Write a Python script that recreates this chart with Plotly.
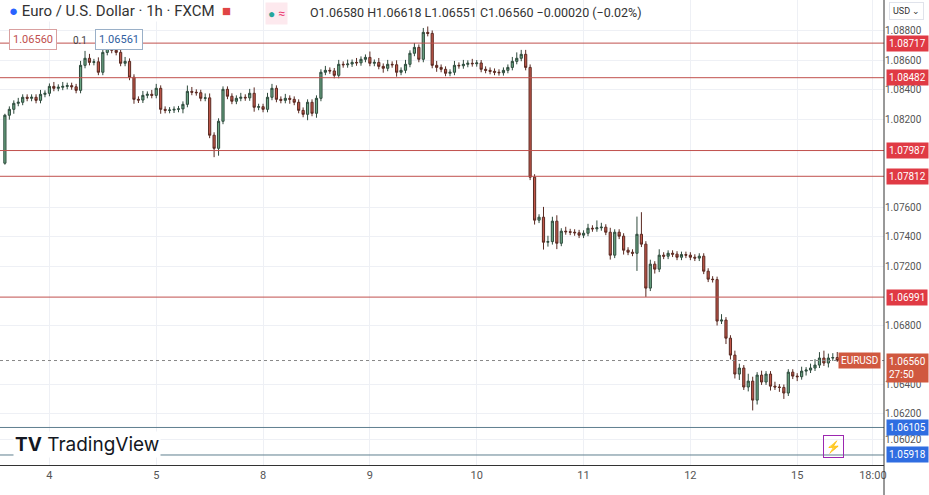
import plotly.graph_objects as go

first_open = 1.07901
closes = [
1.08227,1.08267,1.08308,1.08315,1.08349,1.08342,1.08349,1.08328,1.08369,1.08376,
1.08423,1.08410,1.08417,1.08423,1.08428,1.08420,1.08396,1.08566,1.08614,1.08586,
1.08590,1.08519,1.08654,1.08681,1.08668,1.08654,1.08580,1.08593,1.08485,1.08335,
1.08330,1.08362,1.08369,1.08362,1.08410,1.08267,1.08260,1.08262,1.08267,1.08270,
1.08301,1.08389,1.08383,1.08380,1.08342,1.08345,1.08091,1.08002,1.08186,1.08403,
1.08356,1.08322,1.08342,1.08349,1.08345,1.08376,1.08281,1.08285,1.08267,1.08349,
1.08410,1.08335,1.08328,1.08342,1.08335,1.08315,1.08260,1.08233,1.08315,1.08240,
1.08342,1.08519,1.08532,1.08528,1.08498,1.08573,1.08570,1.08575,1.08586,1.08583,
1.08607,1.08620,1.08580,1.08586,1.08559,1.08546,1.08573,1.08570,1.08519,1.08532,
1.08573,1.08648,1.08688,1.08607,1.08790,1.08783,1.08566,1.08552,1.08539,1.08512,
1.08519,1.08566,1.08563,1.08573,1.08580,1.08577,1.08582,1.08539,1.08532,1.08525,
1.08519,1.08516,1.08532,1.08552,1.08593,1.08614,1.08641,1.08552,1.07806,1.07514,
1.07534,1.07364,1.07368,1.07507,1.07357,1.07439,1.07435,1.07432,1.07428,1.07412,
1.07425,1.07459,1.07455,1.07462,1.07466,1.07432,1.07276,1.07432,1.07405,1.07310,
1.07296,1.07289,1.07418,1.07351,1.07052,1.07215,1.07181,1.07276,1.07269,1.07289,
1.07283,1.07262,1.07280,1.07276,1.07262,1.07256,1.07269,1.07167,1.07113,1.07110,
1.06828,1.06835,1.06712,1.06597,1.06468,1.06509,1.06380,1.06420,1.06291,1.06461,
1.06414,1.06468,1.06386,1.06380,1.06377,1.06339,1.06481,1.06454,1.06450,1.06488,
1.06495,1.06509,1.06529,1.06577,1.06543,1.06577,1.06580,1.06560]

# wick lengths in pips (0.0001)
upper_wick = [
1,2,2,3,2,2,2,2,3,2, 2,3,2,3,2,2,2,3,5,3, 2,3,4,3,2,3,2,3,2,2,
2,3,2,3,3,2,2,2,2,2, 2,4,3,2,2,3,3,2,2,2, 2,2,2,3,2,3,4,2,2,3,
3,2,2,3,2,2,2,2,2,2, 2,2,3,2,2,3,2,3,2,3, 2,2,4,2,3,2,3,2,3,2,
3,2,3,2,3,4,2,3,2,2, 2,3,2,3,2,3,2,2,2,2, 2,2,2,2,3,4,3,3,2,2,
2,7,4,3,4,2,3,2,2,2, 2,3,2,5,3,2,3,2,2,2, 2,2,12,15,2,3,2,4,2,2,
2,2,2,2,2,2,2,2,2,2, 2,4,2,2,3,3,2,5,3,2, 3,2,2,3,2,2,2,2,2,3,
2,3,4,4,5,3,3,4]
lower_wick = [
1,3,3,2,2,2,2,2,2,2, 2,2,2,2,2,2,2,2,2,2, 2,2,2,2,2,2,2,2,2,3,
2,2,2,2,2,3,2,2,2,2, 3,2,2,2,2,2,2,6,5,2, 2,2,2,2,2,2,3,2,2,2,
2,2,2,2,3,2,2,2,4,2, 3,2,2,2,2,2,2,2,2,2, 2,2,2,2,2,3,2,2,3,2,
2,2,2,2,2,2,2,3,2,2, 2,2,2,2,2,2,2,2,2,2, 2,2,2,2,2,2,2,2,2,3,
2,5,3,2,4,2,2,2,2,2, 2,2,2,2,2,2,3,2,2,3, 2,2,12,2,6,2,3,2,2,2,
2,2,2,2,2,2,2,2,2,2, 3,2,4,3,3,4,2,3,7,3, 2,2,3,2,3,4,2,2,3,2,
3,2,2,2,2,3,2,1]

opens = [first_open] + closes[:-1]
highs = [round(max(o, c) + u * 0.0001, 5) for o, c, u in zip(opens, closes, upper_wick)]
lows = [round(min(o, c) - d * 0.0001, 5) for o, c, d in zip(opens, closes, lower_wick)]
highs[-1] = 1.06618
lows[-1] = 1.06551
idx = list(range(len(closes)))

day_ticks = [10, 34, 58, 82, 106, 130, 154, 178, 195]
day_labels = ["4", "5", "8", "9", "10", "11", "12", "15", "18:00"]
price_ticks = [1.088, 1.086, 1.084, 1.082, 1.076, 1.074, 1.072, 1.068, 1.064, 1.062, 1.0602]
red_levels = [1.08717, 1.08482, 1.07987, 1.07812, 1.06991]
blue_levels = [1.06105, 1.05918]
last_price = 1.06560

fig = go.Figure(go.Candlestick(
    x=idx, open=opens, high=highs, low=lows, close=closes,
    increasing=dict(line=dict(color="#2e4a3c", width=1), fillcolor="#6aa583"),
    decreasing=dict(line=dict(color="#5a2a22", width=1), fillcolor="#c2574a"),
    whiskerwidth=0, showlegend=False, hoverinfo="skip"))

shapes = []
for lv in red_levels:
    shapes.append(dict(type="line", xref="paper", x0=0, x1=1, yref="y", y0=lv, y1=lv,
                       line=dict(color="#c0504d", width=1)))
for lv in blue_levels:
    shapes.append(dict(type="line", xref="paper", x0=0, x1=1, yref="y", y0=lv, y1=lv,
                       line=dict(color="#5f7f8f", width=1)))
shapes.append(dict(type="line", xref="paper", x0=0, x1=1, yref="y", y0=last_price, y1=last_price,
                   line=dict(color="#888888", width=1, dash="dot")))
shapes.append(dict(type="line", xref="paper", x0=1, x1=1, yref="paper", y0=-0.07, y1=1,
                   line=dict(color="#333333", width=1)))

lab_font = dict(color="white", size=10, family="Roboto")
ann = []
for lv in red_levels:
    ann.append(dict(xref="paper", x=1.002, xanchor="left", yref="y", y=lv, text=f"{lv:.5f}",
                    showarrow=False, font=lab_font, bgcolor="#e03a44", borderpad=2))
for lv in blue_levels:
    ann.append(dict(xref="paper", x=1.002, xanchor="left", yref="y", y=lv, text=f"{lv:.5f}",
                    showarrow=False, font=lab_font, bgcolor="#2f6de1", borderpad=2))
ann.append(dict(xref="paper", x=1.002, xanchor="left", yref="y", y=last_price, yanchor="top",
                yshift=8, text="1.06560<br>27:50", showarrow=False, align="left",
                font=lab_font, bgcolor="#d0583f", borderpad=2))
ann.append(dict(xref="paper", x=0.997, xanchor="right", yref="y", y=last_price,
                text="EURUSD", showarrow=False, font=lab_font, bgcolor="#d0583f", borderpad=2))
ann.append(dict(xref="paper", x=0.008, xanchor="left", yref="paper", y=1.0, yanchor="top",
                text="<span style='color:#2962ff'>●</span> Euro / U.S. Dollar · 1h · FXCM  <span style='color:#e04444'>■</span>",
                showarrow=False, font=dict(color="#333333", size=15, family="Roboto"), bgcolor="white"))
ann.append(dict(xref="paper", x=0.30, xanchor="left", yref="paper", y=0.995, yanchor="top",
                text="<span style='color:#26a69a'>●</span> <span style='color:#e91e63'>≈</span>",
                showarrow=False, font=dict(size=12), bgcolor="#fde9ee", borderpad=2))
ann.append(dict(xref="paper", x=0.348, xanchor="left", yref="paper", y=0.993, yanchor="top",
                text="O1.06580 H1.06618 L1.06551 C1.06560 −0.00020 (−0.02%)",
                showarrow=False, font=dict(color="#333333", size=12.5, family="Roboto")))
ann.append(dict(xref="paper", x=0.010, xanchor="left", yref="paper", y=0.938, yanchor="top",
                text="1.06560", showarrow=False, font=dict(color="#c0504d", size=11, family="Roboto"),
                bgcolor="white", bordercolor="#d9a0a0", borderwidth=1, borderpad=3))
ann.append(dict(xref="paper", x=0.080, xanchor="left", yref="paper", y=0.93, yanchor="top",
                text="0.1", showarrow=False, font=dict(color="#444444", size=10, family="Roboto")))
ann.append(dict(xref="paper", x=0.107, xanchor="left", yref="paper", y=0.938, yanchor="top",
                text="1.06561", showarrow=False, font=dict(color="#3060a0", size=11, family="Roboto"),
                bgcolor="white", bordercolor="#9ab0c8", borderwidth=1, borderpad=3))
ann.append(dict(xref="paper", x=0.015, xanchor="left", yref="paper", y=0.015, yanchor="bottom",
                text="<b>TV</b> TradingView", showarrow=False,
                font=dict(color="#131722", size=19, family="Inter"), bgcolor="white"))
ann.append(dict(xref="paper", x=1.006, xanchor="left", yref="paper", y=0.995, yanchor="top",
                text="USD ⌄", showarrow=False, font=dict(color="#333333", size=9, family="Roboto"),
                bgcolor="white", bordercolor="#e0e3eb", borderwidth=1, borderpad=3))
ann.append(dict(xref="paper", x=0.943, xanchor="center", yref="paper", y=0.015, yanchor="bottom",
                text="⚡", showarrow=False, font=dict(color="#9c27b0", size=12),
                bordercolor="#9c27b0", borderwidth=1, borderpad=2))

fig.update_layout(
    width=929, height=495, margin=dict(l=0, r=45, t=0, b=30),
    paper_bgcolor="white", plot_bgcolor="white",
    shapes=shapes, annotations=ann,
    xaxis=dict(range=[-1.1, 197.5], tickvals=day_ticks, ticktext=day_labels,
               rangeslider=dict(visible=False), showgrid=True, gridcolor="#eef0f5",
               showline=True, linecolor="#333333", ticks="", tickfont=dict(color="#555555", size=11, family="Roboto"),
               zeroline=False),
    yaxis=dict(range=[1.0585, 1.0901], side="right", tickvals=price_ticks,
               ticktext=[f"{v:.5f}" for v in price_ticks], showgrid=True, gridcolor="#eef0f5",
               tickfont=dict(color="#555555", size=10, family="Roboto"), ticks="", zeroline=False),
)
fig.write_html("out.html", config={"displayModeBar": False},
               post_script="document.body.style.margin='0';document.body.style.overflow='hidden';")
